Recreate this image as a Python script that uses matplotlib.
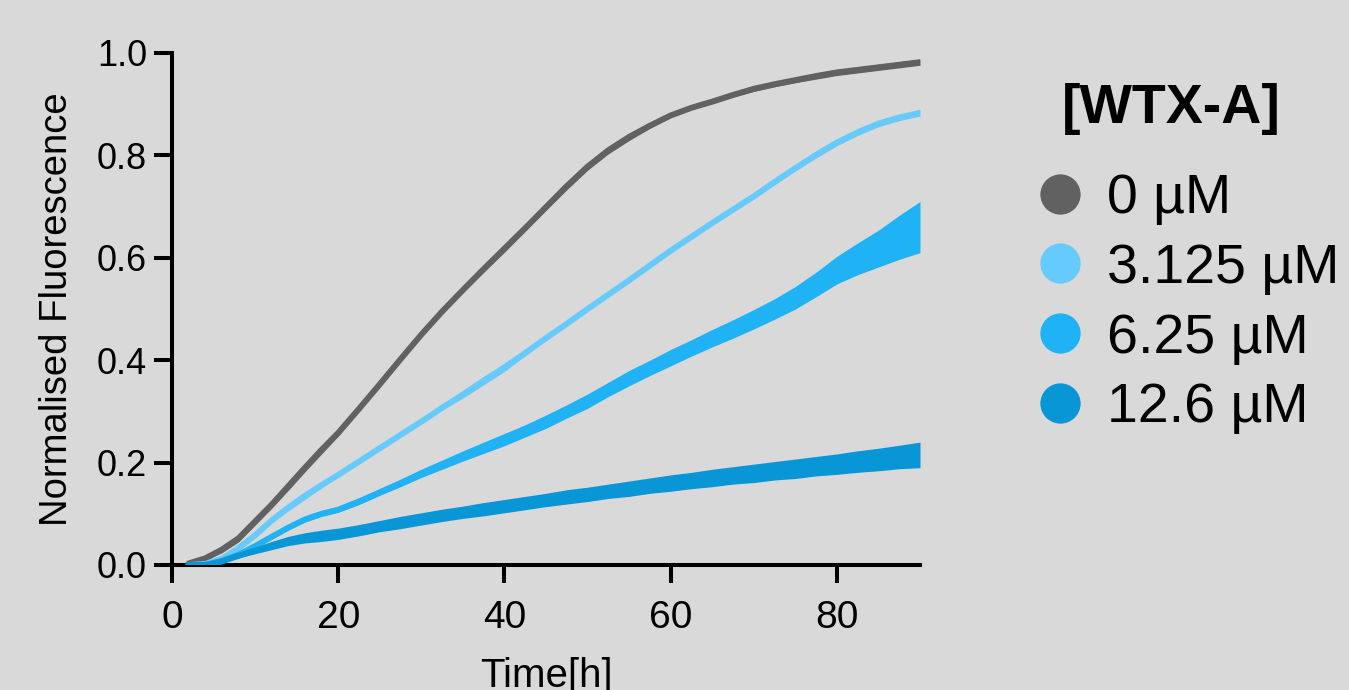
import numpy as np
import matplotlib
matplotlib.use("Agg")
import matplotlib.pyplot as plt
from matplotlib.lines import Line2D
from matplotlib import font_manager

# ---------------- data ----------------
time_h = [2, 4, 6, 8, 10, 12, 14, 16, 18, 20,
          22.5, 25, 27.5, 30, 32.5, 35, 37.5, 40, 42.5, 45, 47.5, 50, 52.5, 55,
          57.5, 60, 62.5, 65, 67.5, 70, 72.5, 75, 77.5, 80, 82.5, 85, 87.5, 90]

mean_0 = [0.003, 0.013, 0.030, 0.052, 0.085, 0.118, 0.154, 0.190, 0.225, 0.258,
          0.305, 0.353, 0.402, 0.450, 0.495, 0.537, 0.578, 0.618, 0.658, 0.699, 0.740, 0.778, 0.810, 0.836,
          0.858, 0.878, 0.893, 0.905, 0.918, 0.930, 0.939, 0.947, 0.955, 0.962, 0.967, 0.972, 0.977, 0.982]
sem_0 = [0.002, 0.004, 0.006, 0.007, 0.007, 0.007, 0.008, 0.008, 0.008, 0.006,
         0.003, 0.002, 0.002, 0.002, 0.002, 0.004, 0.006, 0.007, 0.006, 0.006, 0.007, 0.007, 0.007, 0.007,
         0.005, 0.003, 0.003, 0.004, 0.004, 0.005, 0.005, 0.005, 0.006, 0.006, 0.006, 0.006, 0.006, 0.006]

mean_3125 = [0.0, 0.002, 0.012, 0.033, 0.058, 0.087, 0.112, 0.135, 0.156, 0.176,
             0.202, 0.228, 0.254, 0.280, 0.307, 0.333, 0.360, 0.386, 0.414, 0.443, 0.471, 0.500, 0.528, 0.556,
             0.585, 0.614, 0.641, 0.668, 0.694, 0.720, 0.748, 0.775, 0.801, 0.825, 0.845, 0.862, 0.874, 0.883]
sem_3125 = [0.0, 0.001, 0.002, 0.003, 0.003, 0.004, 0.006, 0.007, 0.005, 0.003,
            0.002, 0.002, 0.002, 0.003, 0.004, 0.007, 0.008, 0.008, 0.005, 0.003, 0.002, 0.002, 0.002, 0.002,
            0.002, 0.003, 0.003, 0.004, 0.004, 0.005, 0.005, 0.005, 0.006, 0.006, 0.006, 0.006, 0.006, 0.006]

mean_625 = [0.0, 0.0, 0.008, 0.020, 0.037, 0.055, 0.073, 0.089, 0.100, 0.108,
            0.124, 0.142, 0.160, 0.179, 0.196, 0.213, 0.229, 0.245, 0.262, 0.280, 0.300, 0.320, 0.343, 0.365,
            0.385, 0.405, 0.424, 0.443, 0.461, 0.480, 0.500, 0.522, 0.548, 0.576, 0.598, 0.618, 0.640, 0.660]
sem_625 = [0.0, 0.0, 0.002, 0.003, 0.003, 0.004, 0.004, 0.005, 0.005, 0.005,
           0.006, 0.006, 0.007, 0.008, 0.009, 0.010, 0.011, 0.012, 0.012, 0.013, 0.013, 0.014, 0.014, 0.015,
           0.015, 0.016, 0.016, 0.017, 0.018, 0.019, 0.020, 0.022, 0.024, 0.027, 0.031, 0.036, 0.043, 0.050]

mean_126 = [0.0, 0.0, 0.007, 0.018, 0.028, 0.038, 0.047, 0.053, 0.057, 0.061,
            0.068, 0.076, 0.083, 0.090, 0.097, 0.103, 0.109, 0.115, 0.121, 0.127, 0.133, 0.138, 0.144, 0.149,
            0.155, 0.160, 0.165, 0.170, 0.175, 0.179, 0.184, 0.188, 0.193, 0.197, 0.202, 0.206, 0.211, 0.215]
sem_126 = [0.0, 0.0, 0.002, 0.004, 0.006, 0.008, 0.009, 0.010, 0.011, 0.011,
           0.011, 0.011, 0.012, 0.012, 0.012, 0.012, 0.013, 0.013, 0.013, 0.013, 0.014, 0.014, 0.014, 0.015,
           0.015, 0.016, 0.016, 0.017, 0.017, 0.018, 0.018, 0.019, 0.019, 0.020, 0.021, 0.022, 0.023, 0.025]

series_labels = ["0 µM", "3.125 µM", "6.25 µM", "12.6 µM"]
series_colors = ["#616161", "#66CAFC", "#1FB2F5", "#0896D6"]
series_means = [mean_0, mean_3125, mean_625, mean_126]
series_sems = [sem_0, sem_3125, sem_625, sem_126]

x_ticks = [0, 20, 40, 60, 80]
y_ticks = [0.0, 0.2, 0.4, 0.6, 0.8, 1.0]

# ---------------- style ----------------
names = {f.name for f in font_manager.fontManager.ttflist}
base_font = "Liberation Sans" if "Liberation Sans" in names else "DejaVu Sans"
narrow_font = "Liberation Sans Narrow" if "Liberation Sans Narrow" in names else base_font
plt.rcParams["font.family"] = [base_font, "DejaVu Sans"]

bg = "#D9D9D9"
fig = plt.figure(figsize=(13.49, 6.90), dpi=100, facecolor=bg)
ax = fig.add_axes([172 / 1349, 1 - 565 / 690, (920 - 172) / 1349, (565 - 53) / 690])
ax.set_facecolor(bg)

t = np.array(time_h)
for m, s, c in zip(series_means, series_sems, series_colors):
    m = np.array(m); s = np.array(s)
    ax.fill_between(t, m - s, m + s, color=c, lw=0, zorder=2)
    ax.plot(t, m, color=c, lw=4.3, solid_capstyle="round", solid_joinstyle="round", zorder=3)

ax.set_xlim(0, 90)
ax.set_ylim(0, 1.0)
ax.set_xticks(x_ticks)
ax.set_yticks(y_ticks)
ax.set_yticklabels([f"{v:.1f}" for v in y_ticks], fontsize=26)
ax.set_xticklabels([str(v) for v in x_ticks], fontsize=28, family=[narrow_font, "DejaVu Sans"])

for side in ["top", "right"]:
    ax.spines[side].set_visible(False)
for side in ["left", "bottom"]:
    ax.spines[side].set_linewidth(2.9)
    ax.spines[side].set_capstyle("projecting")
ax.tick_params(axis="both", which="major", length=13, width=2.9, color="black", labelcolor="black")
ax.tick_params(axis="y", pad=5)
ax.tick_params(axis="x", pad=12)

ax.set_ylabel("Normalised Fluorescence", fontsize=27.5, labelpad=16)
ax.set_xlabel("Time[h]", fontsize=29, labelpad=15, family=[narrow_font, "DejaVu Sans"])

# legend
handles = [Line2D([], [], marker="o", linestyle="", markersize=29, color=c, markeredgewidth=0)
           for c in series_colors]
leg = ax.legend(handles, series_labels, loc="upper left",
                bbox_to_anchor=(1038 / 1349, 1 - 173 / 690), bbox_transform=fig.transFigure,
                frameon=False, fontsize=40, handlelength=0.8, handletextpad=0.45,
                labelspacing=0.32, borderpad=0, borderaxespad=0)
fig.text(1062 / 1349, 1 - 109 / 690, "[WTX-A]", fontsize=40, fontweight="bold",
         ha="left", va="center")

fig.savefig("out.png", dpi=100, facecolor=bg)
